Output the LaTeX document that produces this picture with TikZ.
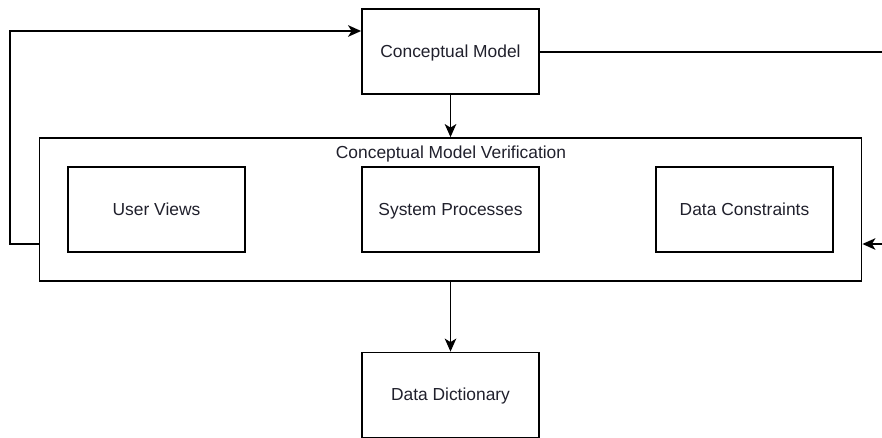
\documentclass[tikz,border=0pt]{standalone}
\usepackage{fontspec}
\setmainfont{Liberation Sans}
\usetikzlibrary{arrows.meta}
\definecolor{txt}{RGB}{32,32,44}
\begin{document}
\begin{tikzpicture}[x=1pt,y=-1pt,
  box/.style={draw,line width=1.8pt,minimum width=177pt,minimum height=85pt,inner sep=0pt,font=\fontsize{17.4}{20}\selectfont,text=txt,text height=14pt,text depth=3pt},
  conn/.style={draw,line width=1.8pt},
  arr/.style={conn,-{Stealth[length=13pt,width=11.5pt,inset=3.5pt]}}]
\useasboundingbox (0,0) rectangle (882,437);
\clip (0,0) rectangle (882,437);
\node[box] (cm) at (450.5,51.5) {Conceptual Model};
\node[draw,line width=1.8pt,minimum width=822pt,minimum height=143pt,inner sep=0pt] (ver) at (450.5,209.5) {};
\node[font=\fontsize{17.4}{20}\selectfont,text=txt,text height=14pt,text depth=3pt] (vt) at (451,153) {Conceptual Model Verification};
\node[box] (uv) at (156.5,209.5) {User Views};
\node[box] (sp) at (450.5,209.5) {System Processes};
\node[box] (dc) at (744.5,209.5) {Data Constraints};
\node[box] (dd) at (450.5,395) {Data Dictionary};
\coordinate (l1) at (10,244);
\coordinate (l2) at (10,31);
\coordinate (r1) at (884,52);
\coordinate (r2) at (884,244);
\draw[arr] (cm) -- (ver);
\draw[arr] (ver) -- (dd);
\draw[arr] (ver.west |- l1) -- (l1) -- (l2) -- (cm.west |- l2);
\draw[conn] (cm.east |- r1) -- (r1);
\draw[arr] (r2) -- (ver.east |- r2);
\end{tikzpicture}
\end{document}
